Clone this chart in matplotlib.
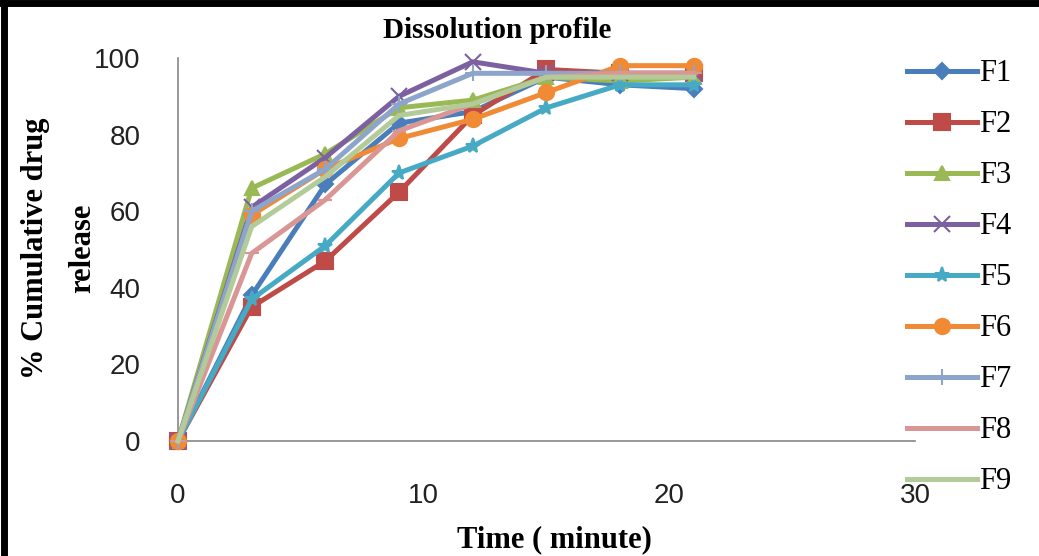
import matplotlib.pyplot as plt
from matplotlib.lines import Line2D

time_min = [0, 3, 6, 9, 12, 15, 18, 21]

f1 = [0, 38, 67, 83, 86, 95, 93, 92]
f2 = [0, 35, 47, 65, 85, 97, 96, 96]
f3 = [0, 66, 75, 87, 89, 95, 94, 95]
f4 = [0, 61, 74, 90, 99, 96, 96, 96]
f5 = [0, 37, 51, 70, 77, 87, 93, 93]
f6 = [0, 59, 71, 79, 84, 91, 98, 98]
f7 = [0, 60, 71, 88, 96, 96, 96, 96]
f8 = [0, 49, 63, 81, 88, 95, 96, 96]
f9 = [0, 56, 69, 85, 88, 95, 95, 95]

labels = ["F1", "F2", "F3", "F4", "F5", "F6", "F7", "F8", "F9"]
series = [f1, f2, f3, f4, f5, f6, f7, f8, f9]

colors = ["#4A7EBB", "#BE4B48", "#98B954", "#7D60A0", "#46AAC5",
          "#F08A35", "#8EA5CB", "#D99694", "#B3CB98"]
markers = ["D", "s", "^", "x", "*", "o", "+", "_", ""]
msizes = [8, 11, 10, 11, 11, 11, 11, 10, 0]

fig = plt.figure(figsize=(10.39, 5.56), dpi=100)
ax = fig.add_axes([0.1713, 0.2068, 0.7093, 0.6889])

for vals, lab, c, m, ms in zip(series, labels, colors, markers, msizes):
    ax.plot(time_min, vals, color=c, linewidth=3.6, marker=m, markersize=ms,
            markeredgewidth=1.5, markeredgecolor=c, label=lab,
            clip_on=False, zorder=3)

ax.set_xlim(0, 30)
ax.set_ylim(0, 100)
ax.set_xticks([0, 10, 20, 30])
ax.set_yticks([0, 20, 40, 60, 80, 100])
ax.tick_params(length=0, labelsize=20, colors="#222222")
ax.tick_params(axis="y", pad=27)
ax.tick_params(axis="x", pad=30)
for lbl in ax.get_xticklabels() + ax.get_yticklabels():
    lbl.set_fontfamily("Liberation Sans")

for s in ["top", "right"]:
    ax.spines[s].set_visible(False)
for s in ["left", "bottom"]:
    ax.spines[s].set_color("#868686")
    ax.spines[s].set_linewidth(1.2)

fig.text(0.479, 0.946, "Dissolution profile", ha="center", va="center",
         fontsize=21, fontweight="bold", family="Liberation Serif")
fig.text(0.534, 0.03, "Time ( minute)", ha="center", va="center",
         fontsize=22, fontweight="bold", family="Liberation Serif")
fig.text(0.057, 0.554, "% Cumulative drug\nrelease", ha="center", va="center",
         rotation=90, fontsize=22, fontweight="bold", family="Liberation Serif",
         linespacing=1.8)

handles = [Line2D([], [], color=c, linewidth=3.6, marker=m, markersize=ms,
                  markeredgewidth=1.5, markeredgecolor=c)
           for c, m, ms in zip(colors, markers, msizes)]
leg = fig.legend(handles, labels, loc="upper left", bbox_to_anchor=(0.873, 0.893),
                 frameon=False, prop={"family": "Liberation Serif", "size": 22},
                 handlelength=2.3, handletextpad=0.05, labelspacing=0.72,
                 borderaxespad=0, borderpad=0)

# black frame around the picture (left and top edges visible)
fig.add_artist(Line2D([0.004, 0.004], [0, 0.995], transform=fig.transFigure,
                      color="black", linewidth=5))
fig.add_artist(Line2D([0.0, 1.0], [0.995, 0.995], transform=fig.transFigure,
                      color="black", linewidth=5))

fig.savefig("out.png", dpi=100)
